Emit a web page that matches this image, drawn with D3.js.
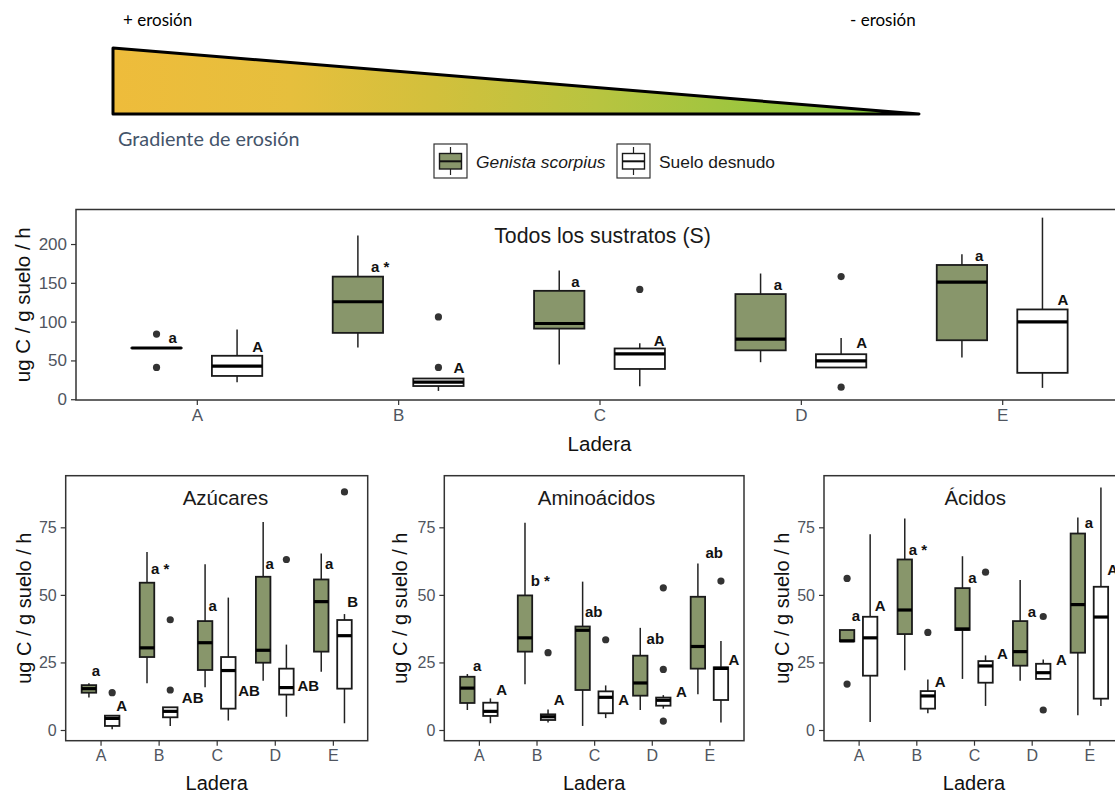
<!DOCTYPE html>
<html><head><meta charset="utf-8">
<script src="https://cdn.jsdelivr.net/npm/d3@7"></script>
<style>body{margin:0;background:#fff} svg{display:block}</style>
</head><body>
<svg id="chart" width="1115" height="796"></svg>
<script>
// ---------------- DATA ----------------
const laderas = ["A","B","C","D","E"];
const grupos = ["Genista scorpius","Suelo desnudo"];
const yTicksTodos = [0,50,100,150,200];
const yTicksSub = [0,25,50,75];
const panelTitles = ["Todos los sustratos (S)","Azúcares","Aminoácidos","Ácidos"];
const yLabel = "ug C / g suelo / h";
const xLabel = "Ladera";
const gradTexts = ["+ erosión","- erosión","Gradiente de erosión"];

// box stats per ladera: [whisker low, Q1, median, Q3, whisker high]
const todosGenista = [[66,66,66,66,66],[66.7,85.5,125.6,158,211],[44.8,91,97.6,139.7,166],[47.7,63,77.4,135.5,162],[53.8,76,151,173,186.7]];
const todosGenistaOut = [[84,41],[],[],[],[]];
const todosSuelo = [[22,30,42.6,56,90],[10.7,17,22,26.7,26.7],[16.8,39,58.5,65.4,72],[40.9,40.9,49.4,58,79],[14.6,34,99.7,115.7,234]];
const todosSueloOut = [[],[106,41],[141.5],[158,15.5],[]];

const azuGenista = [[12,13.8,15.3,16.6,17.3],[17.3,27,30.4,54.5,65.9],[15.8,22.2,32.3,40.3,61.3],[18.2,24.9,29.5,56.7,77],[21.6,29,47.5,55.7,65.3]];
const azuGenistaOut = [[],[],[],[],[]];
const azuSuelo = [[0.3,1.5,4.3,5.3,5.3],[1.5,4.7,6.9,8.4,8.4],[3.5,7.9,22,27,49],[4.9,13.1,15.7,22.7,31.6],[2.5,15.3,34.9,40.7,42.9]];
const azuSueloOut = [[13.8],[40.8,14.8],[],[63.1],[88.1]];

const aminoGenista = [[7.4,10,15.5,19.7,20.7],[16.9,29,34.1,49.8,76.7],[1.5,14.8,36.9,38.3,54.9],[7.4,12.7,17.4,27.5,37.8],[13.2,22.7,30.9,49.3,61.6]];
const aminoGenistaOut = [[],[],[],[],[]];
const aminoSuelo = [[2.5,5.2,6.9,10.1,11.7],[2.8,3.7,4.9,5.8,7.6],[4.4,6.2,12.1,14.3,16.5],[7.9,9,11,12,12.9],[2.8,11.1,22.8,23.2,32.9]];
const aminoSueloOut = [[],[28.6],[33.4],[52.6,22.4,3.3],[55.1]];

const acidGenista = [[32.8,32.8,33,37,37],[22.1,35.5,44.4,63.1,78.3],[18.9,37,37.4,52.5,64.3],[18.2,23.8,29,40.3,55.5],[5.5,28.6,46.4,72.7,78.6]];
const acidGenistaOut = [[56.1,17],[],[],[],[]];
const acidSuelo = [[3,20.1,34.1,41.9,72.4],[6.2,7.9,12.6,14.4,18.7],[8.9,17.5,23.7,25.5,27.6],[18.9,18.9,21.2,24.5,26.1],[8.9,11.6,41.8,53,89.7]];
const acidSueloOut = [[],[36.1],[58.4],[42,7.4],[]];

// significance letters [Genista, Suelo] per ladera, their y value, and x nudge (category units)
const todosLetras = [["a","A"],["a *","A"],["a","A"],["a","A"],["a","A"]];
const todosLetrasY = [[79,67.5],[170.7,40.4],[152,76],[148,72.6],[184.5,128.6]];
const todosLetrasDx = [[0.06,0.075],[0.065,0.075],[0.06,0.07],[0.065,0.075],[0.065,0.075]];
const azuLetras = [["a","A"],["a *","AB"],["a","AB"],["a","AB"],["a","B"]];
const azuLetrasY = [[22,9.2],[59.8,12],[46,14.5],[61.6,16.6],[61.6,47.5]];
const azuLetrasDx = [[0.05,0.07],[0.07,0.2],[0.06,0.17],[0.04,0.19],[0.065,0.05]];
const aminoLetras = [["a","A"],["b *","A"],["ab","A"],["ab","A"],["ab","A"]];
const aminoLetrasY = [[24,14.8],[55.1,11.1],[43.8,11.1],[33.9,14.2],[65.6,25.9]];
const aminoLetrasDx = [[0.1,0.1],[0.1,0.1],[0.04,0.22],[0.11,0.22],[0.13,0.13]];
const acidLetras = [["a","A"],["a *","A"],["a","A"],["a","A"],["a","A"]];
const acidLetrasY = [[42.5,46],[66.6,17.9],[56.5,28.4],[43.9,25.9],[76.7,59.4]];
const acidLetrasDx = [[0.08,0.08],[0.07,0.12],[0.1,0.2],[0.13,0.22],[0.12,0.11]];

// ---------------- STYLE ----------------
const fillGenista = "#88966B";
const fillSuelo = "#FFFFFF";
const fonte = "'Liberation Sans', Arial, sans-serif";
const fonteCab = "Lato, 'Open Sans', sans-serif";
const tickCol = "#4f5560";

const svg = d3.select("#chart");

// ---------------- HEADER ----------------
const defs = svg.append("defs");
const lg = defs.append("linearGradient").attr("id","grad").attr("x1","0%").attr("x2","100%");
[["0%","#EEBC3B"],["22%","#E6BF3D"],["40%","#D2C03C"],["60%","#B8C440"],["75%","#A2C53F"],["86%","#93C63D"],["95%","#84C53A"],["100%","#7EC438"]]
  .forEach(([o,c]) => lg.append("stop").attr("offset",o).attr("stop-color",c));
svg.append("path").attr("d","M113,48 L919,114 L113,114 Z")
  .attr("fill","url(#grad)").attr("stroke","#000").attr("stroke-width",3).attr("stroke-linejoin","round");
svg.append("text").attr("x",123).attr("y",26).text(gradTexts[0])
  .attr("font-family",fonteCab).attr("font-size",17).attr("fill","#000");
svg.append("text").attr("x",850).attr("y",26).text(gradTexts[1])
  .attr("font-family",fonteCab).attr("font-size",17).attr("fill","#000");
svg.append("text").attr("x",118).attr("y",146).text(gradTexts[2])
  .attr("font-family",fonteCab).attr("font-size",19.8).attr("fill","#44546A");

// ---------------- LEGEND ----------------
function legendKey(x0, fill, label, italic) {
  const g = svg.append("g");
  g.append("rect").attr("x",x0).attr("y",144).attr("width",33).attr("height",34)
    .attr("fill","#fff").attr("stroke","#333").attr("stroke-width",1.2);
  const cx = x0 + 16.5;
  g.append("line").attr("x1",cx).attr("x2",cx).attr("y1",147).attr("y2",175).attr("stroke","#222").attr("stroke-width",1.2);
  g.append("rect").attr("x",x0+5.5).attr("y",153.5).attr("width",22).attr("height",15.5)
    .attr("fill",fill).attr("stroke","#1a1a1a").attr("stroke-width",1.4);
  g.append("line").attr("x1",x0+5.5).attr("x2",x0+27.5).attr("y1",161.3).attr("y2",161.3).attr("stroke","#111").attr("stroke-width",2);
  g.append("text").attr("x",x0+42).attr("y",168).text(label)
    .attr("font-family",fonte).attr("font-size",17.4).attr("font-style",italic?"italic":"normal").attr("fill","#1a1a1a");
}
legendKey(434, fillGenista, grupos[0], true);
legendKey(617, fillSuelo, grupos[1], false);

// ---------------- PANELS ----------------
function drawPanel(cfg) {
  const x = d3.scalePoint().domain(laderas).range([cfg.left, cfg.right]).padding(0.6);
  const step = x.step();
  const y = d3.scaleLinear().domain(cfg.yDomain).range([cfg.bottom, cfg.top]);
  const g = svg.append("g");
  const bw = 0.25 * step;

  // axes
  const ya = g.append("g").attr("transform",`translate(${cfg.left},0)`)
    .call(d3.axisLeft(y).tickValues(cfg.ticks).tickSize(5).tickPadding(4));
  const xa = g.append("g").attr("transform",`translate(0,${cfg.bottom})`)
    .call(d3.axisBottom(x).tickSize(5).tickPadding(4));
  [ya, xa].forEach(a => {
    a.select(".domain").remove();
    a.selectAll(".tick line").attr("stroke","#333").attr("stroke-width",1.2);
    a.selectAll(".tick text").attr("font-family",fonte).attr("font-size",cfg.tickSize).attr("fill",tickCol);
  });

  const series = [
    {stats: cfg.gen, outs: cfg.genOut, dodge: -0.2, fill: fillGenista, gi: 0},
    {stats: cfg.sue, outs: cfg.sueOut, dodge: 0.2, fill: fillSuelo, gi: 1}
  ];
  series.forEach(s => {
    const rows = laderas.map((l,i) => ({l, st: s.stats[i], out: s.outs[i], cx: x(l) + s.dodge*step}));
    const bg = g.append("g").selectAll("g").data(rows).join("g");
    bg.append("line").attr("x1",d=>d.cx).attr("x2",d=>d.cx).attr("y1",d=>y(d.st[4])).attr("y2",d=>y(d.st[3]))
      .attr("stroke","#222").attr("stroke-width",1.5);
    bg.append("line").attr("x1",d=>d.cx).attr("x2",d=>d.cx).attr("y1",d=>y(d.st[1])).attr("y2",d=>y(d.st[0]))
      .attr("stroke","#222").attr("stroke-width",1.5);
    bg.append("rect").attr("x",d=>d.cx-bw/2).attr("width",bw)
      .attr("y",d=>y(d.st[3])).attr("height",d=>Math.max(0.01,y(d.st[1])-y(d.st[3])))
      .attr("fill",s.fill).attr("stroke","#1a1a1a").attr("stroke-width",1.8);
    bg.append("line").attr("x1",d=>d.cx-bw/2).attr("x2",d=>d.cx+bw/2).attr("y1",d=>y(d.st[2])).attr("y2",d=>y(d.st[2]))
      .attr("stroke","#000").attr("stroke-width",3.2);
    bg.selectAll("circle").data(d => d.out.map(v => ({v, cx: d.cx}))).join("circle")
      .attr("cx",d=>d.cx).attr("cy",d=>y(d.v)).attr("r",3.6).attr("fill","#333");
    // letters
    g.append("g").selectAll("text").data(laderas.map((l,i) => ({l,i}))).join("text")
      .attr("x", d => x(d.l) + s.dodge*step + cfg.ldx[d.i][s.gi]*step)
      .attr("y", d => y(cfg.ly[d.i][s.gi]))
      .attr("dy","0.36em")
      .text(d => cfg.letras[d.i][s.gi])
      .attr("font-family",fonte).attr("font-weight","bold").attr("font-size",15).attr("fill","#111");
  });

  // border
  g.append("rect").attr("x",cfg.left).attr("y",cfg.top).attr("width",cfg.right-cfg.left).attr("height",cfg.bottom-cfg.top)
    .attr("fill","none").attr("stroke","#333").attr("stroke-width",1.5);

  // titles
  g.append("text").attr("x", x(laderas[2]) + cfg.titleDx*step).attr("y",cfg.titleY).attr("text-anchor","middle")
    .text(cfg.title).attr("font-family",fonte).attr("font-size",cfg.titleSize).attr("fill","#1a1a1a");
  g.append("text").attr("x", (cfg.left+cfg.right)/2).attr("y",cfg.xlabY).attr("text-anchor","middle")
    .text(xLabel).attr("font-family",fonte).attr("font-size",cfg.labSize).attr("fill","#111");
  const yc = (cfg.top + cfg.bottom)/2;
  g.append("text").attr("transform",`translate(${cfg.ylabX},${yc}) rotate(-90)`).attr("text-anchor","middle")
    .text(yLabel).attr("font-family",fonte).attr("font-size",cfg.labSize).attr("fill","#111");
}

drawPanel({left:76, right:1123, top:209.5, bottom:400, yDomain:[-1,244.5], ticks:yTicksTodos,
  gen:todosGenista, genOut:todosGenistaOut, sue:todosSuelo, sueOut:todosSueloOut,
  letras:todosLetras, ly:todosLetrasY, ldx:todosLetrasDx,
  title:panelTitles[0], titleDx:0.015, titleY:243, titleSize:21.3, xlabY:451, ylabX:30, labSize:20.5, tickSize:17});

const subPanels = [
  {left:65.7, right:367.7, gen:azuGenista, genOut:azuGenistaOut, sue:azuSuelo, sueOut:azuSueloOut,
   letras:azuLetras, ly:azuLetrasY, ldx:azuLetrasDx, title:panelTitles[1], titleDx:0.15, ylabX:31},
  {left:444.3, right:744, gen:aminoGenista, genOut:aminoGenistaOut, sue:aminoSuelo, sueOut:aminoSueloOut,
   letras:aminoLetras, ly:aminoLetrasY, ldx:aminoLetrasDx, title:panelTitles[2], titleDx:0.04, ylabX:407},
  {left:824, right:1124, gen:acidGenista, genOut:acidGenistaOut, sue:acidSuelo, sueOut:acidSueloOut,
   letras:acidLetras, ly:acidLetrasY, ldx:acidLetrasDx, title:panelTitles[3], titleDx:0.02, ylabX:789}
];
subPanels.forEach(p => drawPanel(Object.assign({top:475.7, bottom:740.7, yDomain:[-3.96,94.1], ticks:yTicksSub,
  titleY:505, titleSize:20.5, xlabY:790, labSize:20, tickSize:16}, p)));
</script>
</body></html>
